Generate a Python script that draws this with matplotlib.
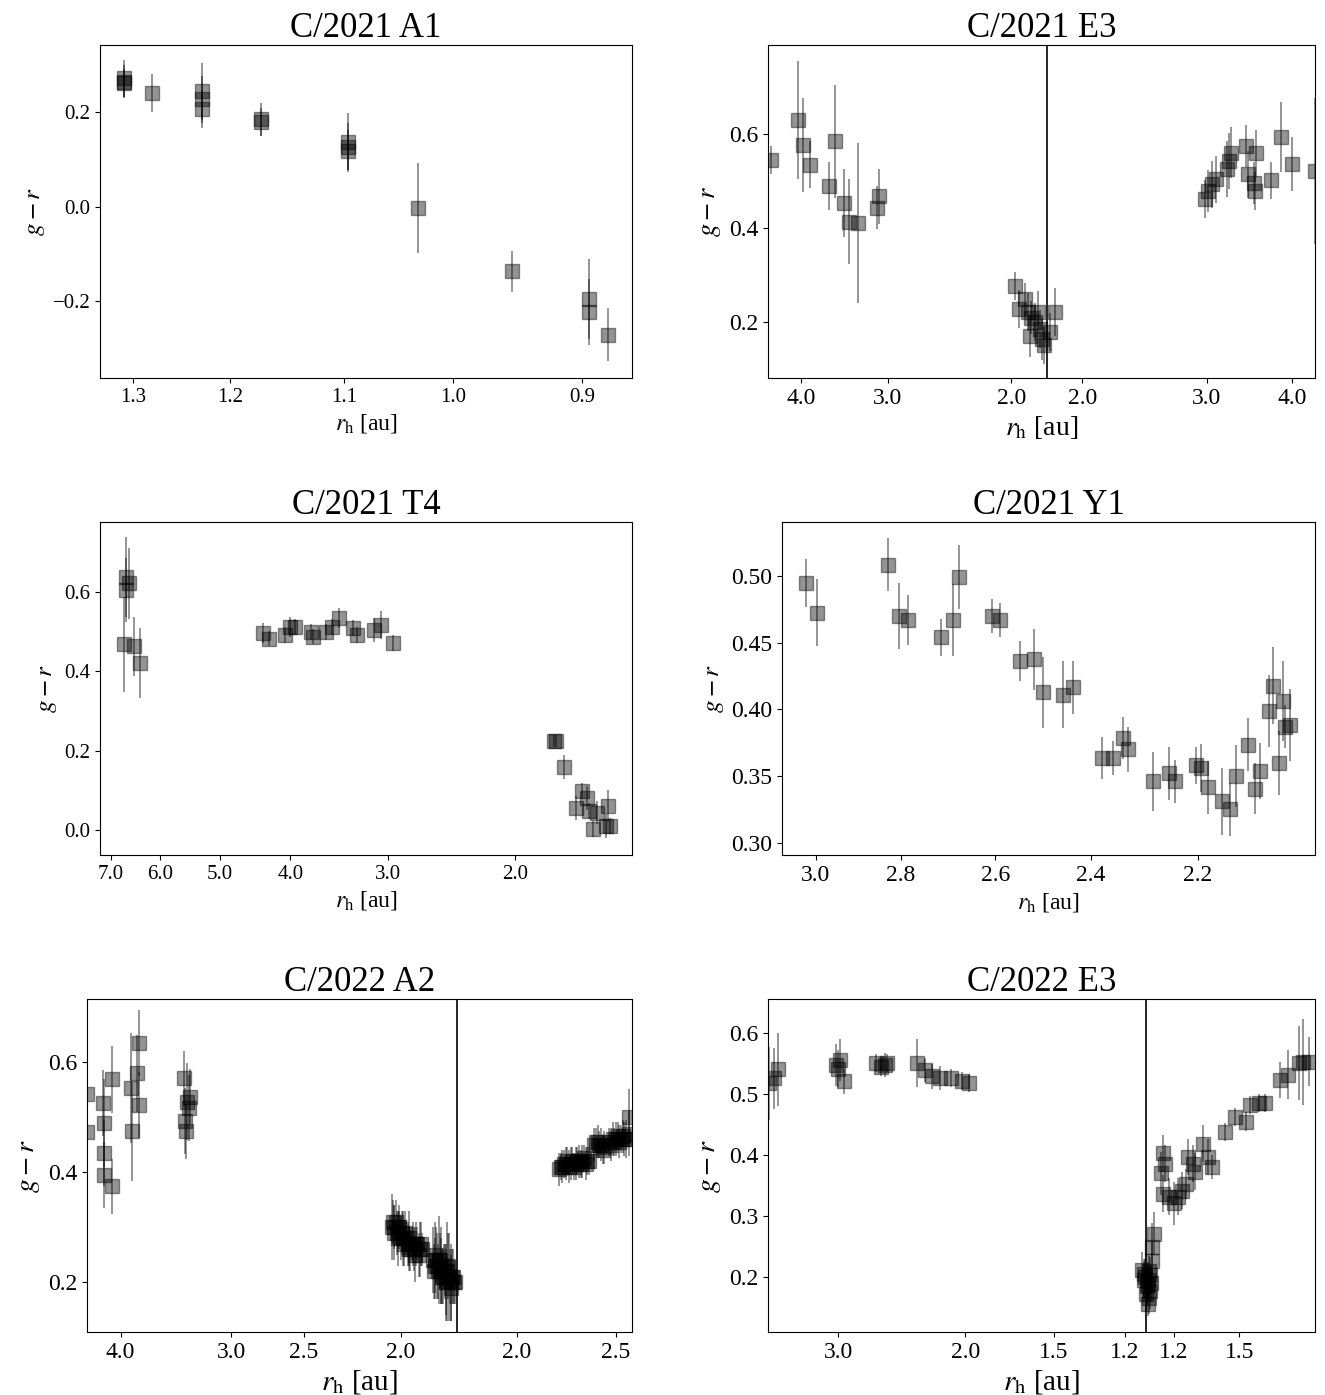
import matplotlib
matplotlib.use("Agg")
import matplotlib.pyplot as plt

plt.rcParams['font.family'] = ['Liberation Serif', 'DejaVu Serif']
plt.rcParams['mathtext.fontset'] = 'stix'

# x axis of every panel is time (days from the first frame); ticks are labelled with r_h
# ---- C/2021 A1 ----
a1_t = [2.9, 2.9, 2.9, 6.15, 12.15, 12.15, 12.15, 19.15, 19.15, 29.55, 29.55, 29.55,
        37.8, 49.05, 58.15, 58.15, 60.4]
a1_gr = [0.272, 0.265, 0.262, 0.242, 0.245, 0.228, 0.207, 0.186, 0.180, 0.138, 0.127, 0.118,
         -0.003, -0.137, -0.195, -0.224, -0.271]
a1_err = [0.04, 0.035, 0.03, 0.04, 0.06, 0.05, 0.04, 0.035, 0.03, 0.06, 0.05, 0.045,
          0.095, 0.043, 0.085, 0.07, 0.057]
a1_tick_t = [3.9, 15.5, 29.0, 42.05, 57.4]
a1_tick_r = ['1.3', '1.2', '1.1', '1.0', '0.9']

# ---- C/2021 E3 ----
e21_t = [0.35, 3.5, 4.15, 4.9, 7.15, 7.85, 9.0, 9.5, 10.65, 12.85, 13.1,
         29.05, 30.2, 29.6, 30.6, 31.8, 31.4, 32.2, 33.8, 30.8, 32.0, 32.5, 33.2, 31.0,
         51.4, 51.75, 52.25, 52.75, 54.0, 54.25, 54.5, 56.25, 56.5, 57.25, 57.3, 57.5,
         59.25, 60.35, 61.65, 64.4]
e21_gr = [0.544, 0.629, 0.576, 0.534, 0.489, 0.584, 0.453, 0.413, 0.410, 0.443, 0.467,
          0.277, 0.249, 0.228, 0.222, 0.222, 0.200, 0.165, 0.222, 0.171, 0.186, 0.151, 0.179, 0.210,
          0.461, 0.479, 0.493, 0.503, 0.525, 0.542, 0.560, 0.574, 0.514, 0.496, 0.479, 0.558,
          0.501, 0.593, 0.536, 0.521]
e21_err = [0.03, 0.125, 0.10, 0.05, 0.05, 0.12, 0.072, 0.09, 0.17, 0.046, 0.058,
           0.03, 0.035, 0.04, 0.04, 0.045, 0.04, 0.045, 0.05, 0.045, 0.04, 0.04, 0.04, 0.035,
           0.04, 0.045, 0.05, 0.05, 0.06, 0.06, 0.055, 0.045, 0.05, 0.045, 0.04, 0.05,
           0.04, 0.074, 0.058, 0.155]
e21_tick_t = [3.9, 14.1, 28.65, 37.0, 51.65, 61.75]
e21_tick_r = ['4.0', '3.0', '2.0', '2.0', '3.0', '4.0']
e21_peri = 32.85

# ---- C/2021 T4 ----
t4_t = [2.9, 3.15, 3.15, 3.4, 4.05, 4.8,
        19.4, 20.15, 22.05, 22.65, 23.15, 25.15, 25.4, 26.9, 27.65, 28.4, 30.15, 30.55,
        32.65, 33.4, 34.9,
        54.0, 54.3, 55.15, 56.65, 57.4, 57.9, 58.15, 58.65, 59.15, 60.15, 60.4, 60.65]
t4_gr = [0.469, 0.638, 0.605, 0.622, 0.463, 0.421,
         0.496, 0.483, 0.492, 0.513, 0.513, 0.500, 0.488, 0.500, 0.513, 0.534, 0.509, 0.492,
         0.504, 0.517, 0.471,
         0.224, 0.224, 0.158, 0.056, 0.098, 0.081, 0.048, 0.002, 0.044, 0.010, 0.060, 0.010]
t4_err = [0.12, 0.10, 0.08, 0.09, 0.075, 0.088,
          0.025, 0.02, 0.02, 0.025, 0.02, 0.02, 0.02, 0.02, 0.02, 0.025, 0.02, 0.02,
          0.03, 0.035, 0.02,
          0.015, 0.015, 0.03, 0.03, 0.02, 0.03, 0.02, 0.02, 0.03, 0.03, 0.04, 0.02]
t4_tick_t = [1.25, 7.15, 14.25, 22.65, 34.25, 49.4]
t4_tick_r = ['7.0', '6.0', '5.0', '4.0', '3.0', '2.0']

# ---- C/2021 Y1 ----
y1_t = [2.8, 4.15, 12.5, 13.8, 14.9, 18.75, 20.15, 20.9, 24.8, 25.65, 28.05, 29.65, 30.8,
        33.15, 34.3, 37.65, 39.05, 40.15, 40.8, 43.75, 45.65, 46.3, 48.75, 49.4, 50.25,
        51.9, 52.8, 53.55, 54.9, 55.75, 56.3, 57.4, 57.9, 58.55, 59.05, 59.25, 59.8]
y1_gr = [0.495, 0.4726, 0.5085, 0.470, 0.467, 0.454, 0.467, 0.4995, 0.470, 0.467, 0.436,
         0.4377, 0.4127, 0.411, 0.4165, 0.3636, 0.3636, 0.3786, 0.370, 0.346, 0.352, 0.346,
         0.358, 0.356, 0.3416, 0.331, 0.325, 0.350, 0.3736, 0.3406, 0.3536, 0.3985, 0.4177,
         0.360, 0.4065, 0.387, 0.3885]
y1_err = [0.018, 0.025, 0.020, 0.025, 0.019, 0.014, 0.027, 0.024, 0.013, 0.013, 0.015,
          0.023, 0.027, 0.025, 0.020, 0.016, 0.013, 0.016, 0.017, 0.022, 0.020, 0.016,
          0.014, 0.018, 0.020, 0.025, 0.020, 0.023, 0.020, 0.019, 0.021, 0.027, 0.029,
          0.024, 0.030, 0.016, 0.027]
y1_tick_t = [4.0, 14.0, 25.15, 36.4, 49.0]
y1_tick_r = ['3.0', '2.8', '2.6', '2.4', '2.2']

# ---- C/2022 A2 ----
a2_t = [0.0, 0.0, 1.9, 2.0, 2.0, 2.0, 3.0, 3.0, 5.25, 5.35, 6.0, 6.15, 6.15,
        11.6, 11.65, 11.75, 11.9, 12.15, 12.25,
        36.3, 36.4, 36.5, 36.6, 36.8, 36.9, 37.0, 37.1, 37.2, 37.4, 37.5, 37.6, 37.7, 37.9,
        38.0, 38.2, 38.3, 38.4, 38.5, 38.7, 38.8, 38.9, 39.0, 39.2, 39.3, 39.5, 39.6, 39.8, 39.9,
        41.2, 41.3, 41.4, 41.5, 41.6, 41.7, 41.8, 41.9, 42.0, 42.1, 42.2, 42.3, 42.4, 42.5,
        42.6, 42.7, 42.8, 42.9, 43.0, 43.1, 43.2, 43.3, 43.4, 43.5, 43.6, 43.7, 43.8,
        56.2, 56.4, 56.6, 56.8, 57.0, 57.2, 57.4, 57.6, 57.8, 58.0, 58.2, 58.4, 58.6, 58.8,
        59.0, 59.2, 59.4, 59.6, 59.8,
        60.4, 60.6, 60.8, 61.0, 61.2, 61.4, 61.6, 62.2, 62.4, 62.6, 62.8, 63.0, 63.2, 63.4,
        63.6, 63.8, 64.0, 64.2, 64.5, 64.5]
a2_gr = [0.542, 0.473, 0.525, 0.489, 0.434, 0.395, 0.568, 0.374, 0.552, 0.474, 0.579, 0.634, 0.521,
         0.570, 0.492, 0.474, 0.528, 0.516, 0.537,
         0.30, 0.31, 0.29, 0.30, 0.31, 0.29, 0.28, 0.30, 0.30, 0.28, 0.29, 0.28, 0.27, 0.29,
         0.28, 0.27, 0.28, 0.26, 0.26, 0.27, 0.27, 0.26, 0.25, 0.27, 0.27, 0.25, 0.26, 0.27, 0.26,
         0.24, 0.22, 0.23, 0.24, 0.25, 0.23, 0.22, 0.24, 0.24, 0.22, 0.23, 0.21, 0.21, 0.23,
         0.22, 0.20, 0.20, 0.22, 0.23, 0.21, 0.21, 0.19, 0.20, 0.21, 0.21, 0.20, 0.20,
         0.405, 0.41, 0.41, 0.415, 0.415, 0.42, 0.41, 0.415, 0.42, 0.41, 0.415, 0.42, 0.42, 0.415,
         0.42, 0.425, 0.415, 0.42, 0.42,
         0.45, 0.455, 0.455, 0.45, 0.45, 0.44, 0.445, 0.455, 0.45, 0.46, 0.455, 0.46, 0.465, 0.455,
         0.46, 0.465, 0.46, 0.46, 0.50, 0.47]
a2_err = [0.04, 0.04, 0.06, 0.08, 0.06, 0.06, 0.06, 0.05, 0.10, 0.09, 0.07, 0.06, 0.06,
          0.05, 0.06, 0.05, 0.07, 0.06, 0.05,
          0.06, 0.04, 0.05, 0.04, 0.04, 0.04, 0.05, 0.04, 0.03, 0.04, 0.04, 0.05, 0.04, 0.04,
          0.03, 0.04, 0.05, 0.04, 0.04, 0.03, 0.04, 0.04, 0.05, 0.04, 0.03, 0.04, 0.05, 0.04, 0.03,
          0.06, 0.05, 0.05, 0.07, 0.05, 0.06, 0.05, 0.08, 0.05, 0.06, 0.07, 0.05, 0.05, 0.04,
          0.05, 0.07, 0.06, 0.09, 0.06, 0.08, 0.05, 0.06, 0.07, 0.05, 0.05, 0.04, 0.04,
          0.03, 0.025, 0.03, 0.025, 0.03, 0.025, 0.03, 0.03, 0.025, 0.025, 0.03, 0.025, 0.03, 0.025,
          0.03, 0.025, 0.03, 0.025, 0.025,
          0.03, 0.025, 0.03, 0.025, 0.03, 0.025, 0.03, 0.025, 0.03, 0.03, 0.025, 0.03, 0.025, 0.03,
          0.025, 0.03, 0.03, 0.035, 0.05, 0.04]
a2_tick_t = [4.0, 17.15, 25.85, 37.35, 51.15, 63.0]
a2_tick_r = ['4.0', '3.0', '2.5', '2.0', '2.0', '2.5']
a2_peri = 44.1

# ---- C/2022 E3 ----
e22_t = [0.15, 0.75, 1.15, 8.0, 8.25, 8.5, 9.0,
         12.75, 13.25, 13.75, 14.0, 17.5, 18.5, 19.25, 20.25, 21.5, 22.85, 23.65,
         44.0, 44.25, 44.5, 44.75, 44.75, 45.0, 45.25, 45.25, 45.5, 45.0, 44.4, 44.9, 44.6,
         44.3, 44.7, 45.1, 44.8,
         46.25, 46.5, 46.5, 46.75, 47.25, 47.75, 48.25, 48.75, 49.25, 49.5, 50.0, 50.25,
         51.25, 51.75, 52.25,
         53.75, 55.0, 56.25, 56.75, 57.75, 58.5,
         60.25, 61.25, 62.5, 63.0, 63.75]
e22_gr = [0.518, 0.526, 0.541, 0.548, 0.542, 0.556, 0.521,
          0.551, 0.545, 0.548, 0.551, 0.551, 0.540, 0.529, 0.526, 0.526, 0.521, 0.518,
          0.211, 0.195, 0.173, 0.156, 0.189, 0.203, 0.227, 0.249, 0.271, 0.178, 0.200, 0.210, 0.185,
          0.205, 0.195, 0.190, 0.165,
          0.370, 0.403, 0.337, 0.386, 0.332, 0.321, 0.332, 0.342, 0.353, 0.397, 0.386, 0.373,
          0.419, 0.397, 0.381,
          0.438, 0.463, 0.455, 0.482, 0.485, 0.485,
          0.523, 0.532, 0.551, 0.553, 0.553]
e22_err = [0.06, 0.05, 0.06, 0.035, 0.03, 0.035, 0.02,
           0.015, 0.015, 0.02, 0.015, 0.04, 0.02, 0.02, 0.02, 0.015, 0.015, 0.015,
           0.03, 0.03, 0.03, 0.02, 0.03, 0.03, 0.03, 0.04, 0.035, 0.03, 0.03, 0.025, 0.03,
           0.025, 0.03, 0.03, 0.025,
           0.035, 0.03, 0.03, 0.03, 0.03, 0.035, 0.03, 0.03, 0.025, 0.03, 0.03, 0.03,
           0.03, 0.03, 0.02,
           0.015, 0.015, 0.015, 0.015, 0.015, 0.015,
           0.03, 0.04, 0.06, 0.07, 0.04]
e22_tick_t = [8.25, 23.25, 33.65, 42.0, 47.75, 55.5]
e22_tick_r = ['3.0', '2.0', '1.5', '1.2', '1.2', '1.5']
e22_peri = 44.5


def panel(ax, t, gr, err, tick_t, tick_r, xlim, ylim, yticks, title,
          peri=None, xlab_fs=17, ylab_fs=18, tick_fs=15):
    ax.errorbar(t, gr, yerr=err, fmt='s', color='k', alpha=0.42, ms=10,
                elinewidth=1.4, capsize=0)
    if peri is not None:
        ax.axvline(peri, color='k', lw=1.2)
    ax.set_xticks(tick_t)
    ax.set_xticklabels(tick_r)
    ax.set_yticks(yticks)
    ax.set_xlim(*xlim)
    ax.set_ylim(*ylim)
    ax.tick_params(labelsize=tick_fs)
    ax.set_title(title, fontsize=25)
    ax.set_xlabel(r'$r_{\rm h}$ [au]', fontsize=xlab_fs)
    ax.set_ylabel(r'$g-r$', fontsize=ylab_fs)


fig = plt.figure(figsize=(13.25, 13.95), dpi=100)
W, H = 1325.0, 1395.0


def box(left, right, top, bottom):
    return [left / W, 1 - bottom / H, (right - left) / W, (bottom - top) / H]


ax1 = fig.add_axes(box(100, 632, 45, 378))
panel(ax1, a1_t, a1_gr, a1_err, a1_tick_t, a1_tick_r, (0, 63.3), (-0.363, 0.343),
      [-0.2, 0.0, 0.2], 'C/2021 A1')

ax2 = fig.add_axes(box(768, 1315, 45, 378))
panel(ax2, e21_t, e21_gr, e21_err, e21_tick_t, e21_tick_r, (0, 64.4), (0.082, 0.788),
      [0.2, 0.4, 0.6], 'C/2021 E3', peri=e21_peri, xlab_fs=20, ylab_fs=19, tick_fs=17)

ax3 = fig.add_axes(box(100, 632, 522, 855))
panel(ax3, t4_t, t4_gr, t4_err, t4_tick_t, t4_tick_r, (0, 63.3), (-0.063, 0.777),
      [0.0, 0.2, 0.4, 0.6], 'C/2021 T4')

ax4 = fig.add_axes(box(782, 1315, 522, 855))
panel(ax4, y1_t, y1_gr, y1_err, y1_tick_t, y1_tick_r, (0, 62.8), (0.2908, 0.5406),
      [0.30, 0.35, 0.40, 0.45, 0.50], 'C/2021 Y1', tick_fs=17)

ax5 = fig.add_axes(box(87, 632, 999, 1332))
panel(ax5, a2_t, a2_gr, a2_err, a2_tick_t, a2_tick_r, (0, 64.9), (0.110, 0.714),
      [0.2, 0.4, 0.6], 'C/2022 A2', peri=a2_peri, xlab_fs=21, ylab_fs=20, tick_fs=17)

ax6 = fig.add_axes(box(768, 1315, 999, 1332))
panel(ax6, e22_t, e22_gr, e22_err, e22_tick_t, e22_tick_r, (0, 64.4), (0.110, 0.656),
      [0.2, 0.3, 0.4, 0.5, 0.6], 'C/2022 E3', peri=e22_peri, xlab_fs=21, ylab_fs=20, tick_fs=17)

fig.savefig('out.png', dpi=100)
